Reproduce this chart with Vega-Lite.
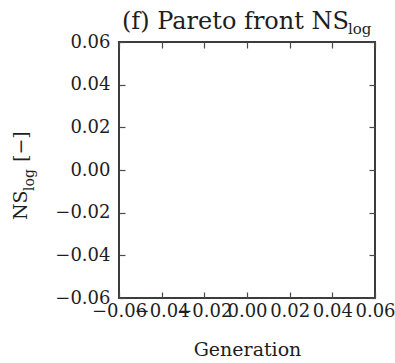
{
  "$schema": "https://vega.github.io/schema/vega-lite/v6.json",
  "width": 256,
  "height": 256,
  "autosize": {"type": "none"},
  "padding": {"left": 119, "top": 42, "right": 20, "bottom": 65},
  "background": "white",
  "config": {
    "font": "DejaVu Serif",
    "view": {"stroke": "#3c3c3c", "strokeWidth": 2},
    "axis": {
      "domain": false,
      "grid": false,
      "labelFont": "DejaVu Serif",
      "labelFontSize": 18,
      "labelColor": "#1e1e1e",
      "titleFont": "DejaVu Serif",
      "titleFontSize": 19,
      "titleFontWeight": "normal",
      "titleColor": "#1e1e1e"
    }
  },
  "layer": [
    {
      "data": {"values": [{"generation": null, "ns_log": null}]},
      "mark": {"type": "point", "opacity": 0},
      "encoding": {
        "x": {
          "field": "generation", "type": "quantitative",
          "scale": {"domain": [-0.06, 0.06], "nice": false, "zero": false},
          "axis": {"orient": "bottom", "title": "Generation", "ticks": true, "tickSize": 6, "offset": -6, "tickColor": "#4a4a4a", "tickWidth": 1.2, "values": [-0.06, -0.04, -0.02, 0, 0.02, 0.04, 0.06], "format": ".2f", "labelPadding": 4, "titlePadding": 20, "labelFlush": false, "labelOverlap": false}
        },
        "y": {
          "field": "ns_log", "type": "quantitative",
          "scale": {"domain": [-0.06, 0.06], "nice": false, "zero": false},
          "axis": {"orient": "left", "title": null, "ticks": true, "tickSize": 6, "offset": -6, "tickColor": "#4a4a4a", "tickWidth": 1.2, "values": [-0.06, -0.04, -0.02, 0, 0.02, 0.04, 0.06], "format": ".2f", "labelPadding": 9, "labelFlush": false, "labelOverlap": false}
        }
      }
    },
    {
      "data": {"values": [{"generation": null, "ns_log": null}]},
      "mark": {"type": "point", "opacity": 0},
      "encoding": {
        "x": {
          "field": "generation", "type": "quantitative",
          "scale": {"domain": [-0.06, 0.06], "nice": false, "zero": false},
          "axis": {"orient": "top", "title": null, "labels": false, "ticks": true, "tickSize": 6, "offset": -6, "tickColor": "#4a4a4a", "tickWidth": 1.2, "values": [-0.06, -0.04, -0.02, 0, 0.02, 0.04, 0.06]}
        },
        "y": {
          "field": "ns_log", "type": "quantitative",
          "scale": {"domain": [-0.06, 0.06], "nice": false, "zero": false},
          "axis": {"orient": "right", "title": null, "labels": false, "ticks": true, "tickSize": 6, "offset": -6, "tickColor": "#4a4a4a", "tickWidth": 1.2, "values": [-0.06, -0.04, -0.02, 0, 0.02, 0.04, 0.06]}
        }
      }
    },
    {
      "data": {"values": [{"t": "(f) Pareto front NS"}]},
      "mark": {"type": "text", "align": "right", "baseline": "alphabetic", "fontSize": 24, "dx": -26, "dy": -13, "color": "#1e1e1e", "clip": false},
      "encoding": {
        "x": {"datum": 0.06, "type": "quantitative", "axis": null},
        "y": {"datum": 0.06, "type": "quantitative", "axis": null},
        "text": {"field": "t"}
      }
    },
    {
      "data": {"values": [{"t": "log"}]},
      "mark": {"type": "text", "align": "left", "baseline": "alphabetic", "fontSize": 15, "dx": -27, "dy": -8, "color": "#1e1e1e", "clip": false},
      "encoding": {
        "x": {"datum": 0.06, "type": "quantitative", "axis": null},
        "y": {"datum": 0.06, "type": "quantitative", "axis": null},
        "text": {"field": "t"}
      }
    },
    {
      "data": {"values": [{"t": "NS"}]},
      "mark": {"type": "text", "align": "left", "baseline": "alphabetic", "angle": 270, "fontSize": 19, "dx": -50, "dy": -92, "color": "#1e1e1e"},
      "encoding": {
        "x": {"datum": -0.06, "type": "quantitative", "axis": null},
        "y": {"datum": 0, "type": "quantitative", "axis": null},
        "text": {"field": "t"}
      }
    },
    {
      "data": {"values": [{"t": "log"}]},
      "mark": {"type": "text", "align": "left", "baseline": "alphabetic", "angle": 270, "fontSize": 14, "dx": -21, "dy": -85, "color": "#1e1e1e"},
      "encoding": {
        "x": {"datum": -0.06, "type": "quantitative", "axis": null},
        "y": {"datum": 0, "type": "quantitative", "axis": null},
        "text": {"field": "t"}
      }
    },
    {
      "data": {"values": [{"t": "[−]"}]},
      "mark": {"type": "text", "align": "left", "baseline": "alphabetic", "angle": 270, "fontSize": 19, "dx": 8, "dy": -92, "color": "#1e1e1e"},
      "encoding": {
        "x": {"datum": -0.06, "type": "quantitative", "axis": null},
        "y": {"datum": 0, "type": "quantitative", "axis": null},
        "text": {"field": "t"}
      }
    }
  ],
  "resolve": {"axis": {"x": "independent", "y": "independent"}}
}
